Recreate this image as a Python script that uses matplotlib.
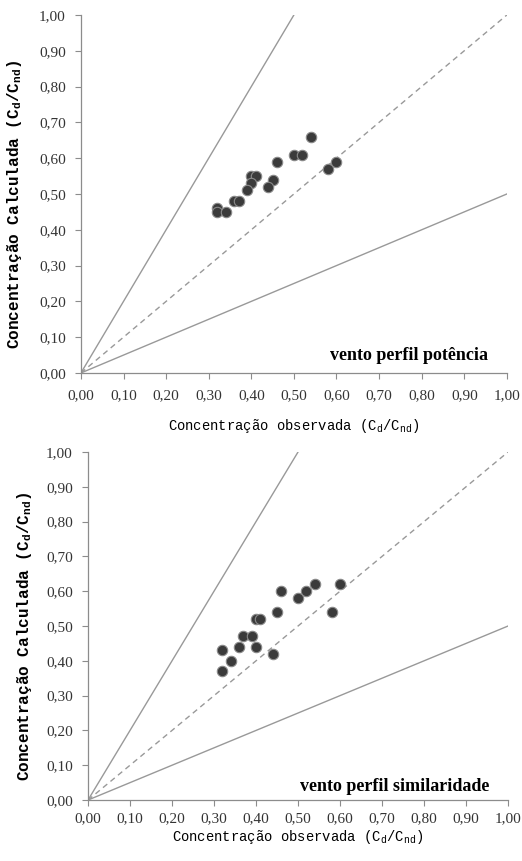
"""Concentração calculada vs observada — dois perfis de vento."""

import matplotlib
matplotlib.use("Agg")
import matplotlib.pyplot as plt
import numpy as np

# vento perfil potência
obs_pot = [0.54, 0.50, 0.52, 0.46, 0.60, 0.58, 0.40, 0.41, 0.40, 0.45,
           0.44, 0.39, 0.36, 0.37, 0.32, 0.32, 0.34]
calc_pot = [0.66, 0.61, 0.61, 0.59, 0.59, 0.57, 0.55, 0.55, 0.53, 0.54,
            0.52, 0.51, 0.48, 0.48, 0.46, 0.45, 0.45]

# vento perfil similaridade
obs_sim = [0.54, 0.60, 0.52, 0.46, 0.50, 0.45, 0.58, 0.40, 0.41, 0.37,
           0.39, 0.36, 0.40, 0.32, 0.44, 0.34, 0.32]
calc_sim = [0.62, 0.62, 0.60, 0.60, 0.58, 0.54, 0.54, 0.52, 0.52, 0.47,
            0.47, 0.44, 0.44, 0.43, 0.42, 0.40, 0.37]

ticks = np.round(np.arange(0, 1.01, 0.1), 2)
tick_labels = [f"{t:.2f}".replace(".", ",") for t in ticks]

plt.rcParams["mathtext.fontset"] = "custom"
plt.rcParams["mathtext.rm"] = "Liberation Mono"

SERIF = "Liberation Serif"
MONO = "Liberation Mono"
GRAY = "#8c8c8c"

fig = plt.figure(figsize=(5.22, 8.61), dpi=100)
ax1 = fig.add_axes([0.155, 0.5668, 0.816, 0.4158])
ax2 = fig.add_axes([0.1686, 0.0708, 0.8046, 0.4042])

# ax, x, y, annotation, annotation y, x tick pad, x label pad, y label x
panels = [
    (ax1, obs_pot, calc_pot, "vento perfil potência", 0.05, 8, 10, -0.134),
    (ax2, obs_sim, calc_sim, "vento perfil similaridade", 0.04, 5, 2, -0.128),
]

for ax, xs, ys, title, ty, xpad, lpad, ylx in panels:
    xx = np.array([0, 1])
    ax.plot(xx, 2 * xx, color="#999999", lw=1.0, zorder=1)
    ax.plot(xx, 0.5 * xx, color="#999999", lw=1.0, zorder=1)
    ax.plot(xx, xx, color="#999999", lw=1.0, ls=(0, (4, 3)), zorder=1)
    ax.plot(xs, ys, "o", ms=7.5, color="#3b3b3b", mec="#8a8a8a", mew=0.8, zorder=3)

    ax.set_xlim(0, 1)
    ax.set_ylim(0, 1)
    ax.set_xticks(ticks)
    ax.set_yticks(ticks)
    ax.set_xticklabels(tick_labels, fontfamily=SERIF, fontsize=11)
    ax.set_yticklabels(tick_labels, fontfamily=SERIF, fontsize=11)
    ax.tick_params(direction="out", length=4, width=0.8, color=GRAY, colors="#333333")
    ax.tick_params(axis="x", pad=xpad)
    ax.tick_params(axis="y", pad=7)
    for s in ("top", "right"):
        ax.spines[s].set_visible(False)
    for s in ("left", "bottom"):
        ax.spines[s].set_color(GRAY)
        ax.spines[s].set_linewidth(0.9)

    ax.set_xlabel(r"Concentração observada (C$_\mathregular{d}$/C$_\mathregular{nd}$)",
                  fontfamily=MONO, fontsize=10, labelpad=lpad)
    ax.set_ylabel(r"Concentração Calculada (C$_\mathregular{d}$/C$_\mathregular{nd}$)",
                  fontfamily=MONO, fontweight="bold", fontsize=11.5)
    ax.yaxis.set_label_coords(ylx, 0.47)
    ax.text(0.955, ty, title, fontfamily=SERIF, fontweight="bold", fontsize=13,
            ha="right", va="center", transform=ax.transAxes)

fig.savefig("out.png", dpi=100)
